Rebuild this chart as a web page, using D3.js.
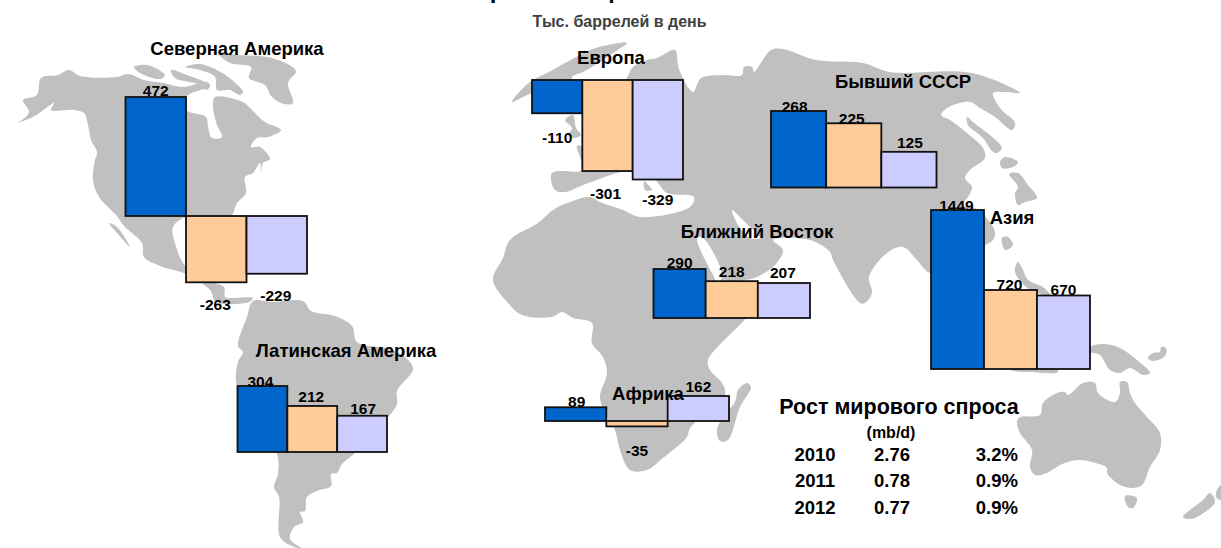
<!DOCTYPE html>
<html>
<head>
<meta charset="utf-8">
<script src="https://d3js.org/d3.v7.min.js"></script>
<style>
    html, body { margin: 0; padding: 0; background: #fff; overflow: hidden; }
    text { font-family: "Liberation Sans", Arial, sans-serif; font-weight: bold; fill: #000; }
</style>
</head>
<body>
<div id="chart"></div>
<script>

// regions
var regions = ["Северная Америка", "Европа", "Бывший СССР", "Ближний Восток", "Азия", "Латинская Америка", "Африка"];

// demand change per region, thousand barrels a day
var values2010 = [472, -110, 268, 290, 1449, 304, 89];
var values2011 = [-263, -301, 225, 218, 720, 212, -35];
var values2012 = [-229, -329, 125, 207, 670, 167, 162];

// world demand table
var tableYears = ["2010", "2011", "2012"];
var tableMbd = ["2.76", "0.78", "0.77"];
var tablePct = ["3.2%", "0.9%", "0.9%"];

var colors = ["#0066cc", "#ffcc99", "#ccccff"];

// every small chart has its own scale, [left, right, zero line, pixel of the tallest bar]
var frames = [
    [125.5, 307, 216, 97],
    [532, 683, 80, 179.5],
    [771, 936.5, 187.5, 111],
    [653.5, 810, 318, 269],
    [931, 1090, 369, 210],
    [237.5, 387, 452, 386],
    [545, 729, 421, 396]
];
var labelDx = [[0, -1, -1], [0, -2, 0], [-4, -2, 1], [0, 0, -1], [-1, -1, 0], [-2, -1, 1], [1, 0, 0]];
var labelDy = [[-1, 28, 27], [30, 28, 25], [1, 0.5, -4], [-1, -4, -5], [1, 0, 0], [1, -4, -2], [0, 30, -4]];
var titlePos = [[237, 55], [611, 64], [903, 88], [757, 238], [1012, 224], [346, 357], [648, 400]];

// map outlines, in page pixels
var land = [
    // north america
    [[8,126],[19,122],[29,112],[23,100],[37,95],[41,78],[58,75],[69,70],[80,76],[117,77],[128,74],[144,80],[163,83],[183,87],[207,82],[210,87],[200,90],[186,97],[186,110],[206,117],[208,127],[212,138],[222,137],[217,125],[213,107],[215,97],[243,102],[250,108],[265,122],[281,130],[268,137],[257,138],[251,147],[260,147],[270,159],[263,163],[261,173],[260,163],[253,173],[245,177],[246,193],[237,203],[230,217],[186,217],[173,227],[175,243],[183,263],[190,270],[204,280],[224,287],[225,297],[233,298],[253,298],[249,302],[233,304],[216,302],[210,290],[186,274],[163,267],[144,257],[142,243],[125,227],[116,215],[99,197],[93,180],[95,160],[97,152],[91,140],[88,125],[84,113],[74,110],[51,110],[54,103],[33,117]],
    [[109,223],[117,227],[130,247],[117,233]],
    [[218,53],[237,55],[272,58],[296,71],[288,83],[293,103],[284,104],[272,97],[265,85],[249,78],[251,67],[230,63]],
    [[185,67],[200,64],[217,70],[232,80],[243,92],[240,95],[230,90],[217,90],[215,77],[200,70]],
    [[134,67],[147,65],[165,75],[160,79],[140,73]],
    [[171,70],[187,75],[205,82],[210,85],[207,90],[198,84],[175,78]],
    // south america
    [[253,301],[272,302],[303,301],[311,311],[335,316],[352,326],[357,342],[389,349],[405,357],[413,369],[397,391],[397,404],[389,416],[355,453],[342,464],[337,473],[331,474],[331,486],[317,491],[307,497],[305,511],[300,512],[303,522],[294,527],[290,539],[301,548],[292,546],[280,537],[279,497],[274,487],[278,474],[277,454],[237,386],[238,362],[243,352],[238,346],[247,317]],
    // scandinavia and iceland side
    [[512,102],[523,88],[533,80],[547,73],[567,62],[590,50],[603,46],[627,43],[613,53],[600,62],[583,72],[572,77],[573,84],[532,93],[523,97]],
    // eurasia and africa
    [[625,80],[633,67],[647,60],[657,58],[675,50],[678,65],[680,72],[693,92],[701,78],[723,75],[742,75],[744,67],[752,67],[754,72],[771,50],[783,49],[816,60],[863,63],[890,72],[972,73],[1020,93],[1005,92],[993,93],[1000,108],[1015,123],[1012,130],[995,117],[980,108],[970,102],[949,107],[941,115],[950,120],[967,133],[983,148],[985,158],[970,170],[965,178],[972,187],[968,197],[962,205],[975,208],[990,222],[995,233],[993,240],[983,247],[960,270],[930,273],[917,260],[903,247],[887,253],[869,277],[872,293],[865,303],[860,303],[833,260],[830,252],[810,240],[773,240],[783,250],[775,265],[757,277],[735,285],[740,318],[746,317],[708,360],[710,370],[722,383],[725,395],[690,428],[687,437],[663,458],[647,470],[630,470],[620,450],[615,430],[607,417],[600,397],[607,373],[603,357],[592,343],[592,323],[573,318],[562,312],[552,317],[522,315],[508,303],[493,280],[503,258],[510,240],[538,223],[553,210],[567,203],[590,197],[600,202],[623,210],[640,217],[690,207],[694,197],[667,193],[655,180],[645,178],[645,190],[652,190],[630,172],[597,180],[583,185],[565,192],[555,190],[552,173],[583,170],[580,157],[577,146],[583,145],[590,100]],
    [[565,120],[573,115],[576,128],[581,135],[574,138],[568,135],[572,128]],
    [[747,383],[751,387],[740,407],[728,440],[720,441],[717,430],[723,417],[735,402],[738,390]],
    // japan, sakhalin, taiwan, philippines
    [[967,117],[973,122],[1002,148],[995,153],[982,137],[968,125]],
    [[1000,162],[1005,157],[1018,162],[1013,167],[1002,168]],
    [[1009,174],[1018,173],[1028,185],[1037,198],[1025,202],[1018,205],[1015,193],[1018,187]],
    [[1002,238],[1008,237],[1013,245],[1005,250]],
    [[1018,262],[1023,270],[1028,280],[1043,287],[1050,295],[1030,290],[1015,272]],
    [[1005,365],[1055,365],[1058,372],[1030,372],[1010,370]],
    // new guinea and around
    [[1090,347],[1103,344],[1120,348],[1137,360],[1150,373],[1143,375],[1130,368],[1120,373],[1110,370],[1100,355],[1090,352]],
    [[1148,358],[1153,353],[1160,352],[1161,347],[1166,348],[1165,356],[1153,361]],
    // australia, tasmania, new zealand
    [[1017,422],[1020,417],[1040,415],[1043,403],[1057,393],[1065,392],[1068,395],[1083,383],[1095,383],[1098,393],[1115,402],[1120,393],[1120,382],[1127,382],[1130,393],[1135,403],[1147,417],[1160,433],[1160,450],[1150,467],[1142,485],[1133,488],[1120,485],[1107,473],[1107,468],[1092,462],[1077,460],[1060,465],[1047,473],[1035,475],[1030,467],[1032,450],[1020,433]],
    [[1125,496],[1137,498],[1133,508],[1128,507]],
    [[1183,517],[1203,500],[1210,493],[1215,502],[1197,517],[1190,519]],
    [[1217,490],[1221,485],[1221,500],[1216,497]]
];
// inland water drawn over the land
var water = [
    [[732,210],[745,222],[760,238],[750,238],[738,225]],
    [[697,238],[703,238],[722,275],[718,283],[713,275]]
];

var width = 1221, height = 548;

var svg = d3.select("#chart").append("svg")
    .attr("width", width)
    .attr("height", height);

var line = d3.line().curve(d3.curveCatmullRomClosed.alpha(0.5));

// map
svg.append("g").selectAll("path")
    .data(land)
    .enter().append("path")
    .attr("d", line)
    .attr("fill", "#c0c0c0");

svg.append("g").selectAll("path")
    .data(water)
    .enter().append("path")
    .attr("d", line)
    .attr("fill", "#fff");

// the title sits mostly above the page edge, as in the picture
svg.append("text")
    .attr("x", 553)
    .attr("y", -2)
    .attr("text-anchor", "middle")
    .style("font-size", "24px")
    .text("Спрос на нефть");

svg.append("text")
    .attr("x", 619.5)
    .attr("y", 27)
    .attr("text-anchor", "middle")
    .style("font-size", "16px")
    .style("fill", "#404040")
    .text("Тыс. баррелей в день");

// one small bar chart per region
regions.forEach(function (name, r) {
    var f = frames[r],
        vals = [values2010[r], values2011[r], values2012[r]],
        extreme = d3.max(vals, function (d) { return Math.abs(d); }),
        sign = f[3] < f[2] ? 1 : -1;

    var x = d3.scaleBand().domain([0, 1, 2]).range([f[0], f[1]]);
    var y = d3.scaleLinear().domain([0, sign * extreme]).range([f[2], f[3]]);

    var g = svg.append("g").attr("class", "region");

    g.selectAll("rect")
        .data(vals)
        .enter().append("rect")
        .attr("x", function (d, i) { return x(i); })
        .attr("width", x.bandwidth())
        .attr("y", function (d) { return Math.min(y(d), y(0)); })
        .attr("height", function (d) { return Math.abs(y(d) - y(0)); })
        .attr("fill", function (d, i) { return colors[i]; })
        .attr("stroke", "#111")
        .attr("stroke-width", 1.8);

    g.selectAll("text")
        .data(vals)
        .enter().append("text")
        .attr("x", function (d, i) { return x(i) + x.bandwidth() / 2 + labelDx[r][i]; })
        .attr("y", function (d, i) { return y(d) + labelDy[r][i]; })
        .attr("text-anchor", "middle")
        .style("font-size", "15.5px")
        .text(function (d) { return d; });
});

// region names go over the bars
svg.append("g").selectAll("text")
    .data(regions)
    .enter().append("text")
    .attr("x", function (d, i) { return titlePos[i][0]; })
    .attr("y", function (d, i) { return titlePos[i][1]; })
    .attr("text-anchor", "middle")
    .style("font-size", "18.5px")
    .text(function (d) { return d; });

// world demand table
svg.append("text")
    .attr("x", 899)
    .attr("y", 414)
    .attr("text-anchor", "middle")
    .style("font-size", "21.5px")
    .text("Рост мирового спроса");

svg.append("text")
    .attr("x", 891)
    .attr("y", 438)
    .attr("text-anchor", "middle")
    .style("font-size", "16px")
    .text("(mb/d)");

var rowY = d3.scalePoint().domain(tableYears).range([460.5, 513.5]);

[[tableYears, 815, "middle"], [tableMbd, 892, "middle"], [tablePct, 1018, "end"]].forEach(function (col) {
    svg.append("g").selectAll("text")
        .data(col[0])
        .enter().append("text")
        .attr("x", col[1])
        .attr("y", function (d, i) { return rowY(tableYears[i]); })
        .attr("text-anchor", col[2])
        .style("font-size", "18.5px")
        .text(function (d) { return d; });
});

</script>
</body>
</html>
